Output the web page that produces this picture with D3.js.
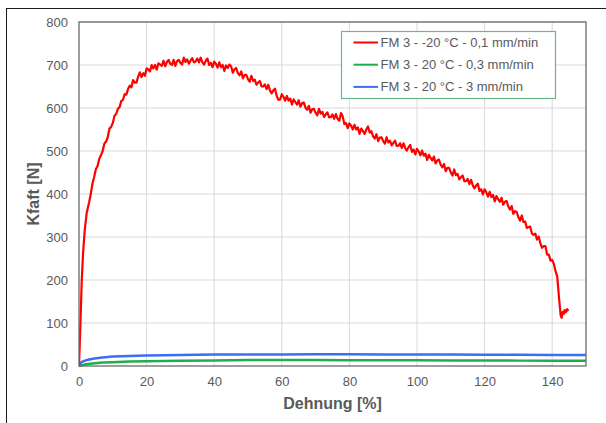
<!DOCTYPE html>
<html><head><meta charset="utf-8">
<script src="https://cdn.jsdelivr.net/npm/d3@7"></script>
<style>
html,body{margin:0;padding:0;background:#fff;}
svg{display:block;font-family:"Liberation Sans",Arial,sans-serif;}
</style></head>
<body><svg id="c" width="606" height="423"></svg>
<script>
// ---- data ----
const xTicks = [0,20,40,60,80,100,120,140];
const yTicks = [0,100,200,300,400,500,600,700,800];
const seriesNames = ["FM 3 - -20 °C - 0,1 mm/min","FM 3 - 20 °C - 0,3 mm/min","FM 3 - 20 °C - 3 mm/min"];

// [Dehnung %, Kraft N]
const redCurve = [[0,0],[0.2,46],[0.5,118],[0.8,196],[1.2,262],[1.7,316],[2.3,357],[3,381],[3.5,401],[4,425],[4.5,440],
[5,458],[5.5,465],[6,482],[6.5,490],[7,500],[7.5,517],[8,522],[8.5,532],[9,552],[9.5,556],
[10,565],[10.5,582],[11,586],[11.5,598],[12,602],[12.5,616],[13,619],[13.5,632],[14,631],[14.5,644],
[15,652],[15.5,648],[16,665],[16.5,659],[17,659],[17.5,673],[18,683],[18.5,672],[19,681],[19.5,675],
[20,692],[20.5,690],[21,685],[21.5,700],[22,692],[22.5,700],[23,689],[23.5,704],[24,701],[24.5,698],
[25,710],[25.5,697],[26,707],[26.5,712],[27,703],[27.5,700],[28,712],[28.5,698],[29,709],[29.5,712],
[30,705],[30.5,701],[31,717],[31.5,707],[32,713],[32.5,703],[33,710],[33.5,716],[34,706],[34.5,708],
[35,715],[35.5,706],[36,717],[36.5,706],[37,701],[37.5,710],[38,715],[38.5,700],[39,705],[39.5,695],
[40,708],[40.5,703],[41,694],[41.5,706],[42,695],[42.5,700],[43,686],[43.5,699],[44,693],[44.5,701],
[45,697],[45.5,682],[46,690],[46.5,693],[47,681],[47.5,676],[48,685],[48.5,669],[49,677],[49.5,677],
[50,667],[50.5,661],[51,675],[51.5,663],[52,666],[52.5,654],[53,659],[53.5,663],[54,650],[54.5,650],
[55,655],[55.5,644],[56,654],[56.5,641],[57,634],[57.5,641],[58,645],[58.5,628],[59,619],[59.5,620],
[60,632],[60.5,626],[61,617],[61.5,628],[62,617],[62.5,622],[63,608],[63.5,620],[64,614],[64.5,608],
[65,618],[65.5,603],[66,611],[66.5,613],[67,601],[67.5,596],[68,605],[68.5,589],[69,597],[69.5,598],
[70,589],[70.5,583],[71,598],[71.5,587],[72,591],[72.5,579],[73,585],[73.5,590],[74,578],[74.5,579],
[75,585],[75.5,575],[76,586],[76.5,575],[77,570],[77.5,588],[78,581],[78.5,563],[79,565],[79.5,553],
[80,564],[80.5,559],[81,550],[81.5,561],[82,550],[82.5,555],[83,540],[83.5,552],[84,546],[84.5,540],
[85,550],[85.5,557],[86,543],[86.5,546],[87,534],[87.5,529],[88,539],[88.5,523],[89,531],[89.5,532],
[90,523],[90.5,517],[91,532],[91.5,520],[92,524],[92.5,513],[93,519],[93.5,524],[94,512],[94.5,512],
[95,518],[95.5,507],[96,518],[96.5,507],[97,501],[97.5,509],[98,514],[98.5,498],[99,503],[99.5,492],
[100,505],[100.5,499],[101,490],[101.5,501],[102,489],[102.5,494],[103,479],[103.5,491],[104,484],[104.5,478],
[105,487],[105.5,471],[106,478],[106.5,480],[107,468],[107.5,462],[108,470],[108.5,453],[109,461],[109.5,461],
[110,450],[110.5,443],[111,457],[111.5,444],[112,447],[112.5,434],[113,439],[113.5,443],[114,430],[114.5,430],
[115,435],[115.5,423],[116,433],[116.5,420],[117,413],[117.5,420],[118,424],[118.5,407],[119,411],[119.5,399],
[120,411],[120.5,404],[121,394],[121.5,405],[122,393],[122.5,398],[123,383],[123.5,395],[124,388],[124.5,382],
[125,391],[125.5,375],[126,382],[126.5,384],[127,371],[127.5,364],[128,372],[128.5,354],[129,360],[129.5,358],
[130,346],[130.5,338],[131,350],[131.5,335],[132,336],[132.5,321],[133,323],[133.5,324],[134,308],[134.5,305],
[135,308],[135.5,294],[136,301],[136.5,285],[137,275],[137.5,279],[138,279],[138.5,259],[139,259],[139.5,245],
[140,247],[140.5,237],[141,220],[141.5,208],[142,160],[142.5,118],[142.8,112],[143.1,126],[143.4,121],[143.7,130],
[144,125],[144.4,132],[144.8,128]];

const greenCurve = [[0,0],[1,2],[2,4],[4,6],[7,8],[10,9],[15,10.5],[20,11],[30,12],[40,13],[50,14],[60,14],[70,14],
[80,13.5],[90,13.5],[100,13.5],[110,13],[120,13],[130,12.5],[140,12.5],[150,12]];

const blueCurve = [[0,3],[0.5,7],[1,10],[2,13],[3,15],[5,18],[7,20],[10,22],[15,23.5],[20,24.5],[30,25.5],[40,26.5],
[50,27],[60,27],[70,27.5],[80,27.5],[90,27],[100,27],[110,26.5],[120,26],[130,26],[140,25.5],[150,25.5]];

const colors = ["#ff0000","#1fae4e","#3d6df5"];

// ---- drawing ----
const svg = d3.select("#c");
const M = {left:79, right:586, top:22, bottom:366};
const x = d3.scaleLinear().domain([0,150]).range([M.left, M.right]);
const y = d3.scaleLinear().domain([0,800]).range([M.bottom, M.top]);
const grey = "#595959";

// outer frame
svg.append("rect").attr("x",6.5).attr("y",8.5).attr("width",620).attr("height",430)
  .attr("fill","none").attr("stroke","#1a1a1a").attr("stroke-width",1);

// grid
const g = svg.append("g");
g.selectAll(".gx").data(xTicks.filter(d=>d>0)).enter().append("line")
  .attr("x1",d=>x(d)).attr("x2",d=>x(d)).attr("y1",M.top).attr("y2",M.bottom)
  .attr("stroke","#d9d9d9").attr("stroke-width",1);
g.selectAll(".gy").data(yTicks.filter(d=>d>0)).enter().append("line")
  .attr("x1",M.left).attr("x2",M.right).attr("y1",d=>y(d)).attr("y2",d=>y(d))
  .attr("stroke","#d9d9d9").attr("stroke-width",1);

// axes (labels only, via d3 axis)
const xa = svg.append("g").attr("transform",`translate(0,${M.bottom})`)
  .call(d3.axisBottom(x).tickValues(xTicks).tickSize(0).tickPadding(11));
const ya = svg.append("g").attr("transform",`translate(${M.left},0)`)
  .call(d3.axisLeft(y).tickValues(yTicks).tickSize(0).tickPadding(11));
[xa,ya].forEach(a=>{a.select(".domain").remove();
  a.selectAll("text").attr("fill",grey).style("font-size","13px").style("font-family","'Liberation Sans',Arial,sans-serif");});

// curves
const line = d3.line().x(d=>x(d[0])).y(d=>y(d[1]));
svg.append("clipPath").attr("id","clp").append("rect")
  .attr("x",M.left).attr("y",M.top).attr("width",M.right-M.left).attr("height",M.bottom-M.top+2);
const curves = [redCurve, greenCurve, blueCurve];
const widths = [2.2,2.5,2.5];
[1,2,0].forEach(i=>{
  svg.append("path").datum(curves[i]).attr("d",line).attr("fill","none")
    .attr("stroke",colors[i]).attr("stroke-width",widths[i]).attr("stroke-linejoin","round")
    .attr("clip-path","url(#clp)");
});

// plot frame
svg.append("rect").attr("x",M.left).attr("y",M.top).attr("width",M.right-M.left).attr("height",M.bottom-M.top)
  .attr("fill","none").attr("stroke","#6b6b6b").attr("stroke-width",1.3);

// axis titles
svg.append("text").attr("x",(M.left+M.right)/2).attr("y",409).attr("text-anchor","middle")
  .attr("fill",grey).style("font-size","16px").style("font-weight","bold").text("Dehnung [%]");
svg.append("text").attr("transform",`translate(39,${(M.top+M.bottom)/2}) rotate(-90)`).attr("text-anchor","middle")
  .attr("fill",grey).style("font-size","16px").style("font-weight","bold").text("Kfaft [N]");

// legend
const lg = svg.append("g");
lg.append("rect").attr("x",341.5).attr("y",31.5).attr("width",214).attr("height",67)
  .attr("fill","#fff").attr("stroke","#6db58c").attr("stroke-width",1.2);
seriesNames.forEach((n,i)=>{
  const yy = 42.5 + i*22.2;
  lg.append("line").attr("x1",353.5).attr("x2",378).attr("y1",yy).attr("y2",yy)
    .attr("stroke",colors[i]).attr("stroke-width",2);
  lg.append("text").attr("x",380.5).attr("y",yy).attr("dy","0.35em").attr("fill",grey)
    .style("font-size","13px").text(n);
});
</script></body></html>
